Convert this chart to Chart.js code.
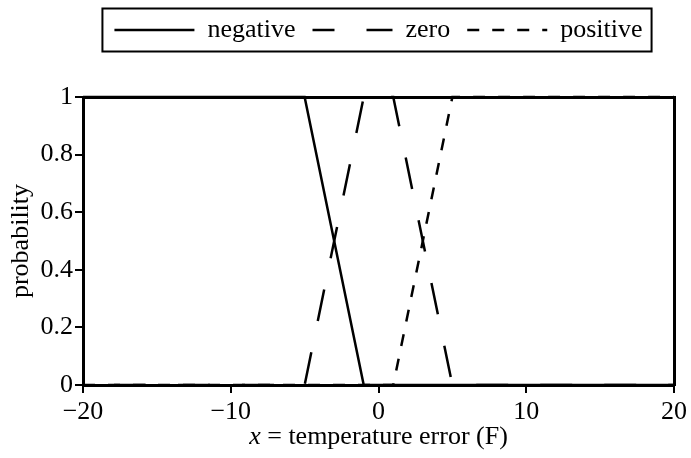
<!DOCTYPE html>
<html>
<head>
<meta charset="utf-8">
<script src="https://cdn.jsdelivr.net/npm/chart.js@4.4.1/dist/chart.umd.min.js"></script>
<style>
  body { margin: 0; background: #fff; }
</style>
</head>
<body>
<canvas id="fuzzy-chart" width="691" height="458"></canvas>
<script>
  // membership functions
  var seriesNames = ['negative', 'zero', 'positive'];
  var negativeX = [-20, -5, -1, 20];
  var negativeY = [1, 1, 0, 0];
  var zeroX = [-20, -5, -1, 1, 5, 20];
  var zeroY = [0, 0, 1, 1, 0, 0];
  var positiveX = [-20, 1, 5, 20];
  var positiveY = [0, 0, 1, 1];
  var xTicks = [-20, -10, 0, 10, 20];
  var yTicks = [0, 0.2, 0.4, 0.6, 0.8, 1];
  var xTitleVar = 'x';
  var xTitleRest = ' = temperature error (F)';

  function toPoints(xs, ys) {
    return xs.map(function(x, i) {
      return {x: x, y: ys[i]};
    });
  }

  var serif = "'Liberation Serif', 'DejaVu Serif', serif";
  Chart.defaults.font.family = serif;
  Chart.defaults.font.size = 26;
  Chart.defaults.color = '#000';

  // box round the legend
  var legendFrame = {
    id: 'legendFrame',
    afterDraw: function(chart) {
      var boxes = chart.legend.legendHitBoxes;
      if (!boxes || !boxes.length) return;
      var first = boxes[0];
      var last = boxes[boxes.length - 1];
      var cy = first.top + first.height / 2;
      var ctx = chart.ctx;
      ctx.save();
      ctx.strokeStyle = '#000';
      ctx.lineWidth = 2;
      ctx.strokeRect(first.left - 12, cy - 21.5, last.left + last.width - first.left + 21, 43);
      ctx.restore();
    }
  };

  // x axis title with italic x
  var xTitle = {
    id: 'xTitle',
    afterDraw: function(chart) {
      var ctx = chart.ctx;
      var area = chart.chartArea;
      ctx.save();
      ctx.fillStyle = '#000';
      ctx.textBaseline = 'middle';
      ctx.font = 'italic 26px ' + serif;
      var w1 = ctx.measureText(xTitleVar).width;
      ctx.font = '26px ' + serif;
      var w2 = ctx.measureText(xTitleRest).width;
      var x0 = (area.left + area.right) / 2 - (w1 + w2) / 2;
      var y0 = 437;
      ctx.font = 'italic 26px ' + serif;
      ctx.fillText(xTitleVar, x0, y0);
      ctx.font = '26px ' + serif;
      ctx.fillText(xTitleRest, x0 + w1, y0);
      ctx.restore();
    }
  };

  var lineStyle = {
    borderColor: '#000',
    backgroundColor: '#000',
    borderWidth: 2.5,
    pointRadius: 0,
    fill: false,
    tension: 0,
    clip: 6
  };

  var ctx = document.getElementById('fuzzy-chart');
  var myChart = new Chart(ctx, {
    type: 'line',
    data: {
      datasets: [
        Object.assign({label: seriesNames[0], data: toPoints(negativeX, negativeY), borderDash: []}, lineStyle),
        Object.assign({label: seriesNames[1], data: toPoints(zeroX, zeroY), borderDash: [32, 32], borderDashOffset: 33, legendOffset: 10}, lineStyle),
        Object.assign({label: seriesNames[2], data: toPoints(positiveX, positiveY), borderDash: [12, 13]}, lineStyle)
      ]
    },
    options: {
      responsive: false,
      animation: false,
      layout: {padding: 0},
      plugins: {
        tooltip: {enabled: false},
        legend: {
          position: 'top',
          fullSize: false,
          labels: {
            usePointStyle: true,
            pointStyleWidth: 80,
            padding: 17,
            font: {size: 26},
            generateLabels: function(chart) {
              return chart.data.datasets.map(function(ds, i) {
                return {
                  text: ds.label,
                  fillStyle: '#000',
                  strokeStyle: '#000',
                  fontColor: '#000',
                  lineWidth: 2.5,
                  lineDash: ds.borderDash,
                  lineDashOffset: ds.legendOffset || 0,
                  pointStyle: 'line',
                  hidden: false,
                  datasetIndex: i
                };
              });
            }
          }
        }
      },
      scales: {
        x: {
          type: 'linear',
          position: 'bottom',
          min: -20,
          max: 20,
          afterBuildTicks: function(scale) {
            scale.ticks = xTicks.map(function(v) { return {value: v}; });
          },
          afterFit: function(scale) { scale.height = 73; },
          ticks: {
            padding: 4,
            maxRotation: 0,
            callback: function(v) { return String(v).replace('-', '\u2212'); }
          },
          grid: {drawOnChartArea: false, color: '#000', lineWidth: 2, tickLength: 8},
          border: {color: '#000', width: 3}
        },
        y: {
          type: 'linear',
          position: 'left',
          min: 0,
          max: 1,
          afterBuildTicks: function(scale) {
            scale.ticks = yTicks.map(function(v) { return {value: v}; });
          },
          afterFit: function(scale) { scale.width = 83; },
          ticks: {
            padding: 2,
            callback: function(v) { return String(v); }
          },
          grid: {drawOnChartArea: false, color: '#000', lineWidth: 2, tickLength: 8},
          border: {color: '#000', width: 3},
          title: {display: true, text: 'probability', padding: {top: 6, bottom: 0}}
        },
        x2: {
          type: 'linear',
          position: 'top',
          min: -20,
          max: 20,
          afterFit: function(scale) { scale.height = 44; },
          ticks: {display: false},
          grid: {display: false},
          border: {color: '#000', width: 3}
        },
        y2: {
          type: 'linear',
          position: 'right',
          min: 0,
          max: 1,
          afterFit: function(scale) { scale.width = 14; },
          ticks: {display: false},
          grid: {display: false},
          border: {color: '#000', width: 3}
        }
      }
    },
    plugins: [legendFrame, xTitle]
  });
</script>
</body>
</html>
